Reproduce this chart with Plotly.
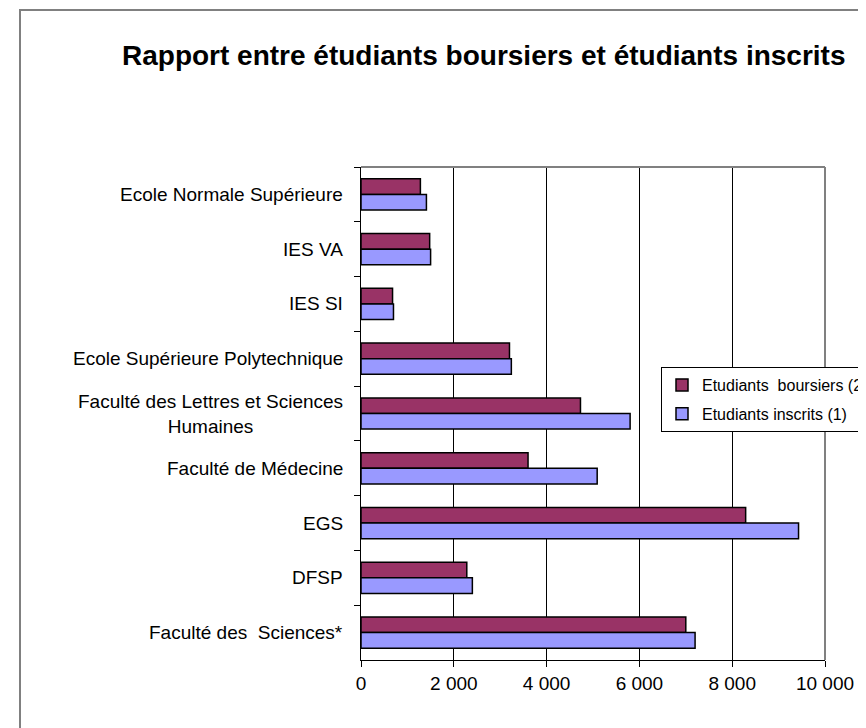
import plotly.graph_objects as go

categories = [
    "Ecole Normale Supérieure",
    "IES VA",
    "IES SI",
    "Ecole Supérieure Polytechnique",
    "Faculté des Lettres et Sciences<br>Humaines",
    "Faculté de Médecine",
    "EGS",
    "DFSP",
    "Faculté des  Sciences*",
]
boursiers = [1280, 1480, 680, 3200, 4730, 3600, 8290, 2280, 7000]
inscrits = [1410, 1500, 700, 3240, 5800, 5090, 9430, 2400, 7200]
x_ticks = [0, 2000, 4000, 6000, 8000, 10000]

FONT = "Arial, Liberation Sans, sans-serif"
OFF = 8  # page body margin
W, H = 866 - OFF, 728 - OFF
# plot area in screen pixels
SX0, SX1, SY0, SY1 = 361, 825, 167, 660
L, T = SX0 - OFF, SY0 - OFF
R, B = W - (SX1 - OFF), H - (SY1 - OFF)
pw, ph = W - L - R, H - T - B

def px(xs):
    return (xs - SX0) / pw

def py(ys):
    return (SY1 - ys) / ph

fig = go.Figure()
fig.add_trace(go.Bar(
    y=categories, x=boursiers, orientation="h", name="Etudiants  boursiers (2)",
    legendgroup="b",
    marker=dict(color="#993366", line=dict(color="black", width=1.5)),
))
fig.add_trace(go.Bar(
    y=categories, x=inscrits, orientation="h", name="Etudiants inscrits (1)",
    legendgroup="i",
    marker=dict(color="#9999FF", line=dict(color="black", width=1.5)),
))

annotations = []
for c in categories:
    annotations.append(dict(
        x=0, xref="paper", y=c, yref="y", text=c, showarrow=False,
        xanchor="right", yanchor="middle", xshift=-16, align="center",
        font=dict(family=FONT, size=19, color="black"),
    ))
annotations.append(dict(
    x=px(483), xref="paper", y=py(55), yref="paper",
    text="<b>Rapport entre étudiants boursiers et étudiants inscrits</b>",
    showarrow=False, xanchor="center", yanchor="middle",
    font=dict(family=FONT, size=28, color="black"),
))

shapes = [
    dict(type="rect", xref="paper", yref="paper", x0=px(20), x1=px(900), y0=py(10), y1=py(760),
         line=dict(color="#808080", width=2), layer="below"),
    dict(type="line", xref="paper", yref="paper", x0=0, x1=1, y0=1, y1=1,
         line=dict(color="#808080", width=2)),
    dict(type="line", xref="paper", yref="paper", x0=1, x1=1, y0=0, y1=1,
         line=dict(color="#808080", width=2)),
]

fig.update_layout(
    width=W, height=H,
    margin=dict(l=L, r=R, t=T, b=B, autoexpand=False),
    paper_bgcolor="white", plot_bgcolor="white",
    barmode="group", bargap=0.43, bargroupgap=0,
    separators=", ",
    font=dict(family=FONT, color="black"),
    showlegend=True,
    legend=dict(
        x=px(661), y=py(367), xanchor="left", yanchor="top",
        bordercolor="black", borderwidth=1, bgcolor="white",
        font=dict(family=FONT, size=16, color="black"),
        itemwidth=30, tracegroupgap=5, traceorder="grouped",
    ),
    annotations=annotations,
    shapes=shapes,
)
fig.update_xaxes(
    range=[0, 10000], tickvals=x_ticks, tickformat=",d",
    showgrid=True, gridcolor="black", gridwidth=1,
    showline=True, linecolor="black", linewidth=1,
    ticks="outside", ticklen=6, tickcolor="black",
    tickfont=dict(family=FONT, size=19, color="black"),
    zeroline=False, fixedrange=True, automargin=False,
)
fig.update_yaxes(
    categoryorder="array", categoryarray=categories, autorange="reversed",
    showticklabels=False, tickson="boundaries",
    ticks="outside", ticklen=6, tickcolor="black",
    showline=True, linecolor="black", linewidth=1,
    showgrid=False, zeroline=False, fixedrange=True, automargin=False,
)

fig.write_html("out.html")
